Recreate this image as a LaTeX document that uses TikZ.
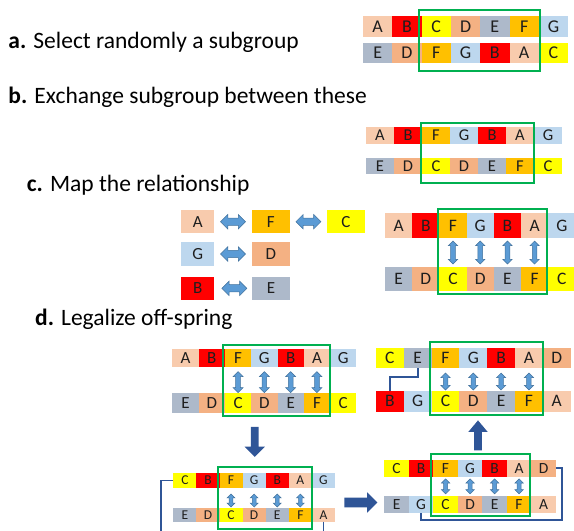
\documentclass[tikz,border=0pt]{standalone}
\usepackage{fontspec}
\setmainfont{Carlito}
\usetikzlibrary{shapes.arrows,calc}

\definecolor{cA}{HTML}{F8CBAD}
\definecolor{cB}{HTML}{FF0000}
\definecolor{cC}{HTML}{FFFF00}
\definecolor{cD}{HTML}{F4B183}
\definecolor{cE}{HTML}{ADB9CA}
\definecolor{cF}{HTML}{FFC000}
\definecolor{cG}{HTML}{BDD7EE}
\definecolor{selgreen}{HTML}{00B050}
\definecolor{arrfill}{HTML}{5B9BD5}
\definecolor{arredge}{HTML}{41719C}
\definecolor{navy}{HTML}{2F5597}
\definecolor{ink}{HTML}{1E1E1E}

\tikzset{
  cell/.style={inner sep=0pt, outer sep=0pt, text=ink, anchor=center},
  lab/.style={anchor=base west, inner sep=0pt, font=\fontsize{23.5}{28}\selectfont, text=black},
  gbox/.style={draw=selgreen, line width=2pt},
  % shaft half-width is the inner ysep, since the nodes are empty
  darr/.style={shape=double arrow, fill=arrfill, draw=arredge, line width=0.5pt,
               inner xsep=0pt, outer sep=0pt},
  varr/.style={darr, rotate=90},
  blockarr/.style={shape=single arrow, fill=navy, draw=none, inner xsep=0pt},
  link/.style={draw=navy, line width=1.8pt}
}

% one row of seven coloured gene cells
% #1 name, #2 left x, #3 cell width, #4 centre y, #5 height, #6 font size, #7 letters
\newcommand\cellrow[7]{%
  \foreach \l [count=\i] in {#7}{%
    \node[cell, fill=c\l, minimum width=#3pt, minimum height=#5pt,
          font=\fontsize{#6}{#6}\selectfont] (#1-\i) at ({#2+(\i-0.5)*#3},#4) {\l};
  }%
}

\begin{document}
\begin{tikzpicture}[x=1pt,y=-1pt]
\useasboundingbox (0,0) rectangle (574,531);
\clip (0,0) rectangle (574,531);

% step captions
\node[lab] (capa) at (8.3,48.3)  {\textbf{a.} Select randomly a subgroup};
\node[lab] (capb) at (8.3,103)   {\textbf{b.} Exchange subgroup between these};
\node[lab] (capc) at (26.7,191)  {\textbf{c.} Map the relationship};
\node[lab] (capd) at (35,325)    {\textbf{d.} Legalize off-spring};

% a. parents with the chosen subgroup
\cellrow{a1}{363}{29.3}{26.5}{21}{18}{A,B,C,D,E,F,G}
\cellrow{a2}{363}{29.3}{53}{20}{18}{E,D,F,G,B,A,C}
\draw[gbox] (419,10) rectangle (540,71);

% b. subgroups exchanged
\cellrow{b1}{366}{28}{135.5}{17}{16.5}{A,B,F,G,B,A,G}
\cellrow{b2}{366}{28}{166}{16.5}{16.5}{E,D,C,D,E,F,C}
\draw[gbox] (420.7,122.7) rectangle (534,183.3);

% c. mapping table
\tikzset{mapcell/.style={cell, minimum height=23.3pt, font=\fontsize{17}{17}\selectfont}}
\node[mapcell, fill=cA, minimum width=33.3pt] (mA) at (197.7,221.7) {A};
\node[mapcell, fill=cF, minimum width=38.3pt] (mF) at (270.9,221.7) {F};
\node[mapcell, fill=cC, minimum width=38.3pt] (mC) at (345.9,221.7) {C};
\node[mapcell, fill=cG, minimum width=33.3pt] (mG) at (197.7,254) {G};
\node[mapcell, fill=cD, minimum width=38.3pt] (mD) at (270.9,254) {D};
\node[mapcell, fill=cB, minimum width=33.3pt] (mB) at (197.7,288.3) {B};
\node[mapcell, fill=cE, minimum width=38.3pt] (mE) at (270.9,288.3) {E};
\tikzset{harr/.style={darr, minimum height=25pt, inner ysep=3.4pt, double arrow head extend=3.6pt}}
\node[harr] (hAF) at ($(mA.east)!0.5!(mF.west)$) {};
\node[harr] (hFC) at ($(mF.east)!0.5!(mC.west)$) {};
\node[harr] (hGD) at ($(mG.east)!0.5!(mD.west)$) {};
\node[harr] (hBE) at ($(mB.east)!0.5!(mE.west)+(1.3,0)$) {};

% c. offspring with pairing arrows
\cellrow{c1}{385}{27.2}{225.8}{25}{17.5}{A,B,F,G,B,A,G}
\cellrow{c2}{385}{27.2}{278.7}{24}{17.5}{E,D,C,D,E,F,C}
\draw[gbox] (437.7,209.3) rectangle (546.7,294.3);
\foreach \i in {3,...,6}
  \node[varr, minimum height=23pt, inner ysep=2.1pt, double arrow head extend=2.3pt] (cv\i) at ($(c1-\i.south)!0.5!(c2-\i.north)$) {};

% d. before legalizing
\cellrow{d1}{172.3}{26.3}{358.2}{18.5}{17}{A,B,F,G,B,A,G}
\cellrow{d2}{172.3}{26.3}{403}{20.5}{17}{E,D,C,D,E,F,C}
\draw[gbox] (222.7,345) rectangle (330,416);
\foreach \i in {3,...,6}
  \node[varr, minimum height=21pt, inner ysep=2.1pt, double arrow head extend=2.6pt] (dv\i) at ($(d1-\i.south)!0.5!(d2-\i.north)+(0,2)$) {};

% d. legal offspring
\cellrow{e1}{376}{27.8}{358}{20.6}{17.5}{C,E,F,G,B,A,D}
\cellrow{e2}{376}{27.8}{401.2}{21}{17.5}{B,G,C,D,E,F,A}
\draw[gbox] (430,342.3) rectangle (543.3,415);
\foreach \i in {3,...,6}
  \node[varr, minimum height=17pt, inner ysep=2pt, double arrow head extend=2.4pt] (ev\i) at ($(e1-\i.south)!0.5!(e2-\i.north)+(0,2)$) {};
\draw[link] (e1-2.south) -- ++(0,9) -| (e2-1.north);

% d. first repair
\cellrow{f1}{173.3}{23.1}{480.5}{14.4}{13.5}{C,B,F,G,B,A,G}
\cellrow{f2}{173.3}{23.1}{515}{13.4}{13.5}{E,D,C,D,E,F,A}
\draw[gbox] (217.7,467.3) rectangle (311.7,529);
\foreach \i in {3,...,6}
  \node[varr, minimum height=13pt, inner ysep=1.6pt, double arrow head extend=2.1pt] (fv\i) at ($(f1-\i.south)!0.5!(f2-\i.north)+(0,2.5)$) {};
\coordinate (fout1) at (160.7,545);
\coordinate (fout2) at ($(f2-7.south)+(0,30)$);
\draw[link] (f1-1.west) -| (fout1);
\draw[link] (f2-7.south) -- (fout2);

% d. second repair
\cellrow{g1}{384.3}{24.5}{468.3}{16.7}{15.5}{C,B,F,G,B,A,D}
\cellrow{g2}{384.3}{24.5}{504.7}{17.3}{15.5}{E,G,C,D,E,F,A}
\draw[gbox] (430.7,454.3) rectangle (530,516);
\foreach \i in {3,...,6}
  \node[varr, minimum height=15pt, inner ysep=1.8pt, double arrow head extend=2.1pt] (gv\i) at ($(g1-\i.south)!0.5!(g2-\i.north)$) {};
\draw[link] (g1-7.east) -| ([xshift=6pt,yshift=-6.7pt]g2-7.south east) -| (g2-2.south);

% flow between the repair stages
\node[blockarr, minimum height=30pt, inner ysep=3.6pt, single arrow head extend=6.4pt, rotate=-90] (down) at (254.7,440) {};
\node[blockarr, minimum height=33pt, inner ysep=4.6pt, single arrow head extend=5.4pt] (right) at (358.5,502.5) {};
\node[blockarr, minimum height=30pt, inner ysep=3.7pt, single arrow head extend=5.8pt, single arrow tip angle=80, rotate=90] (up) at (478,437.7) {};
\end{tikzpicture}
\end{document}
